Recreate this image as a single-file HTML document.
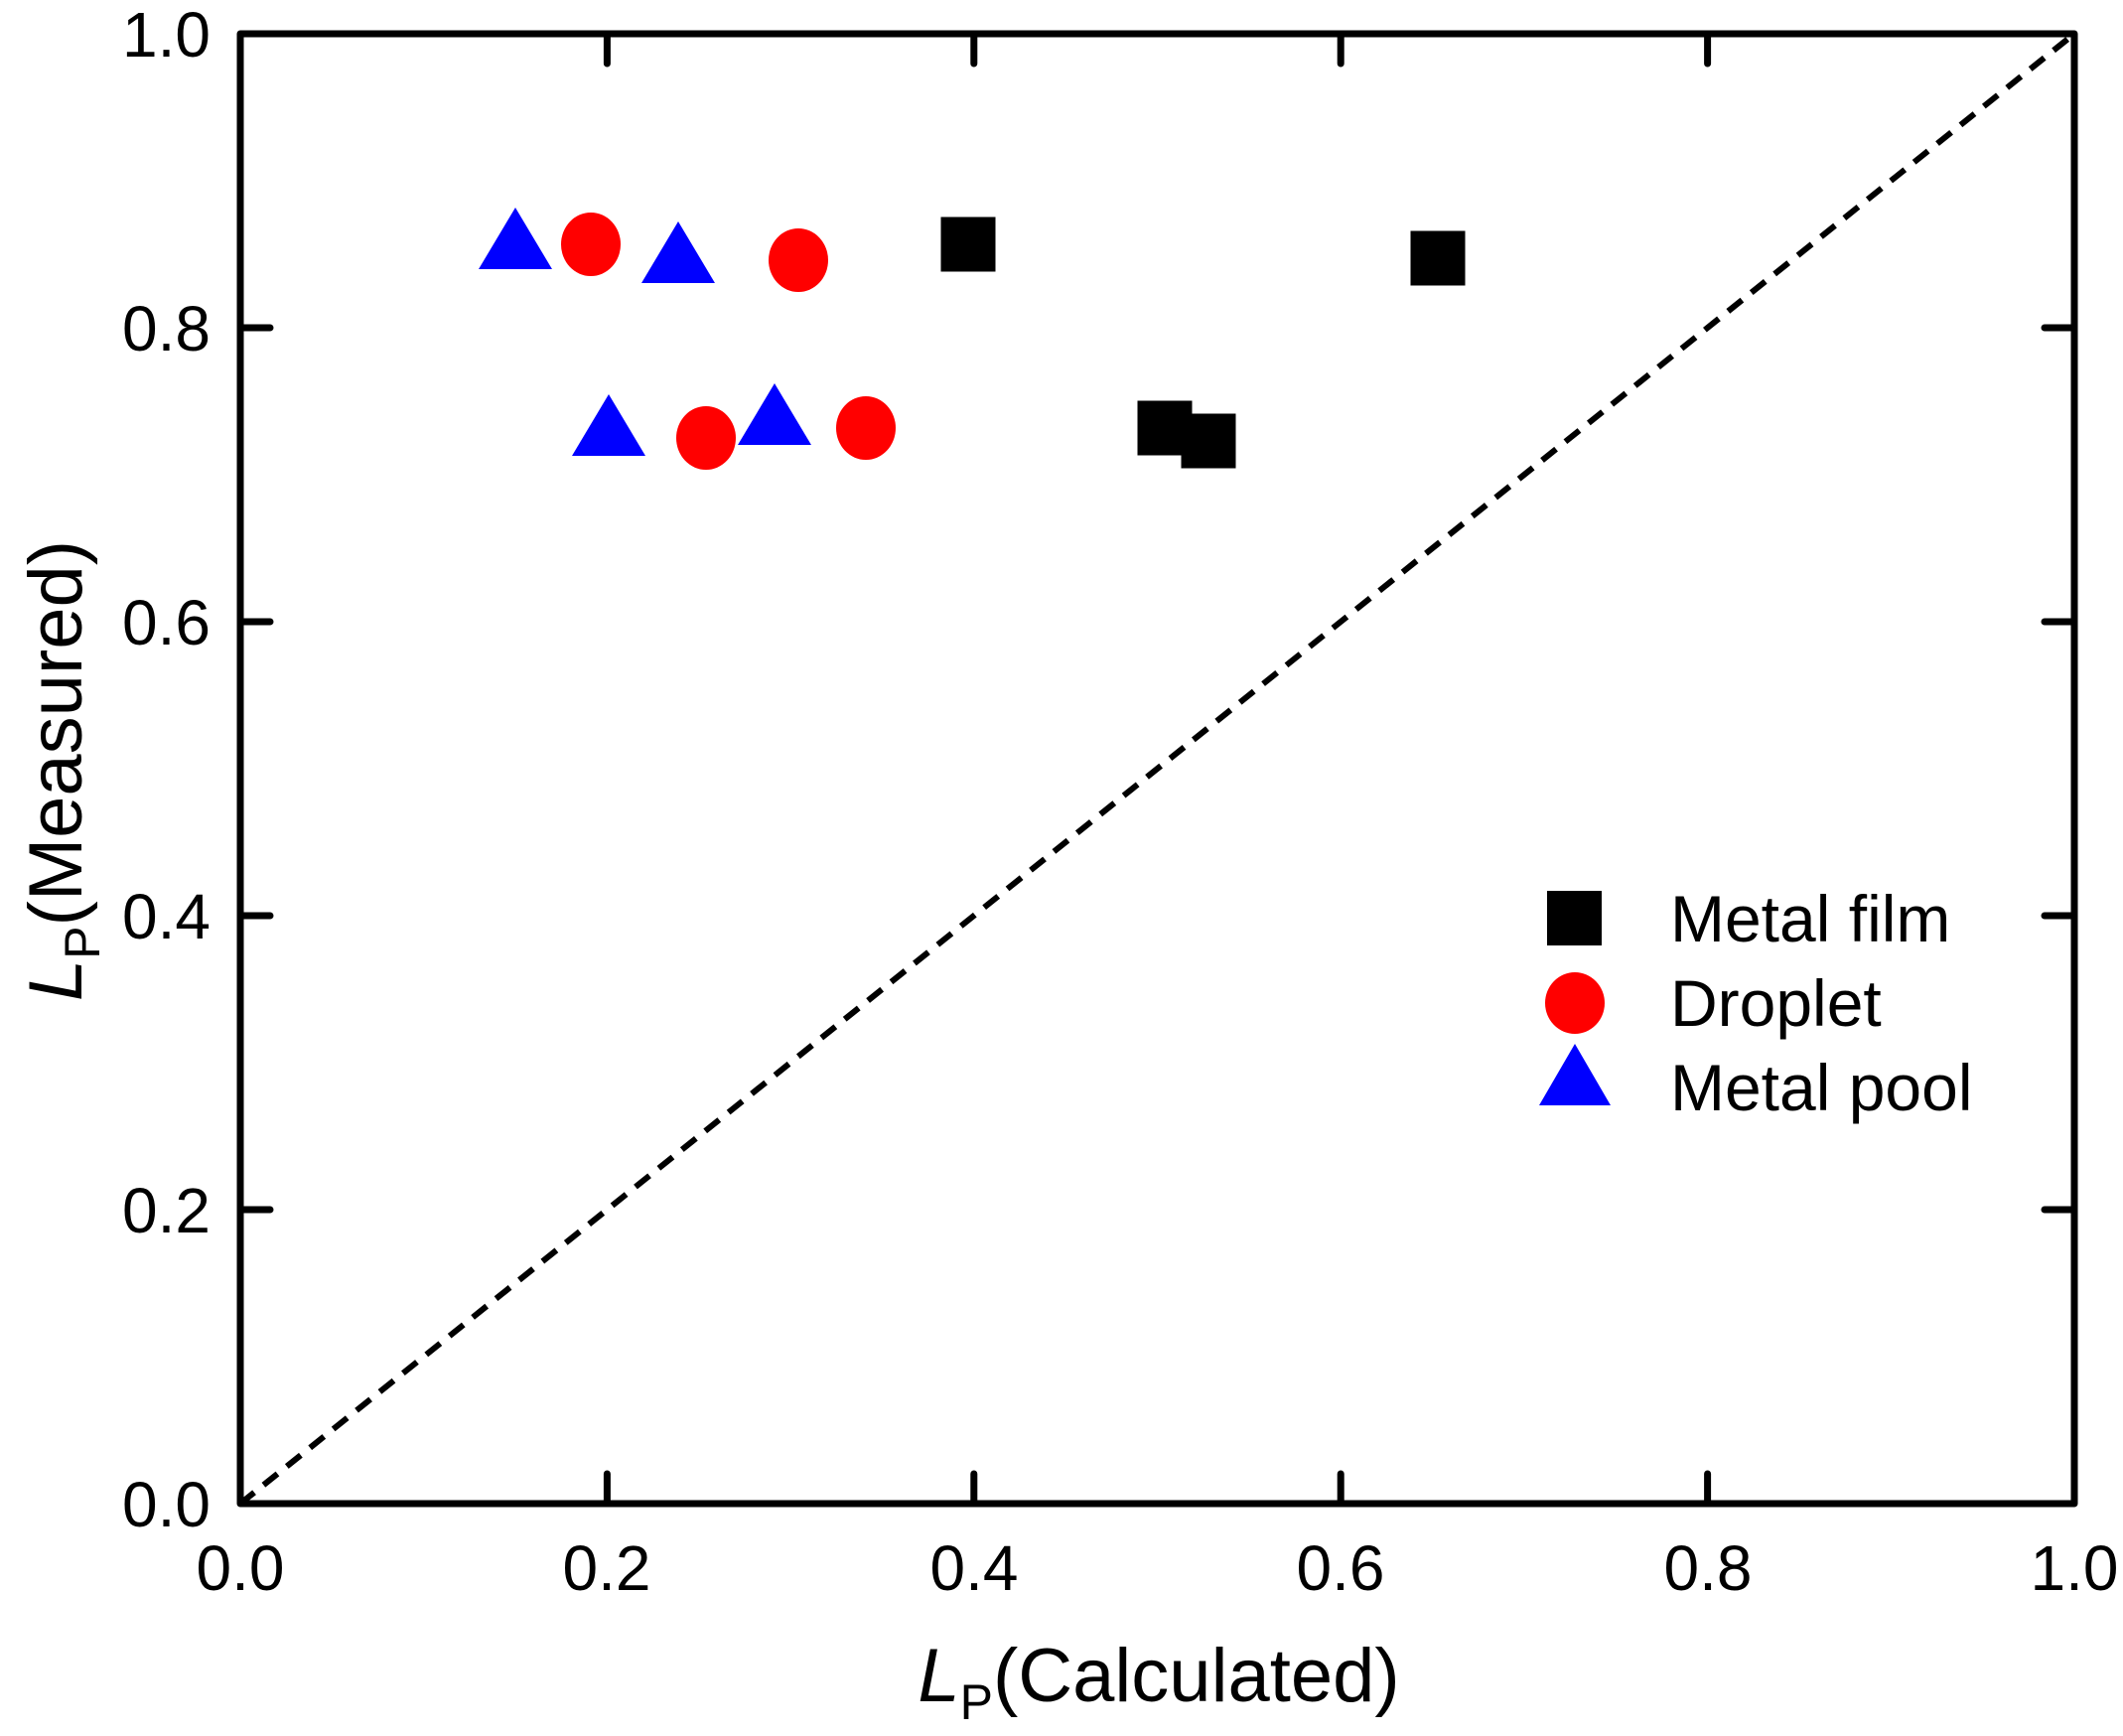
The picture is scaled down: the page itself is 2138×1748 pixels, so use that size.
<!DOCTYPE html>
<html><head><meta charset="utf-8"><style>html,body{margin:0;padding:0;background:#fff}svg{display:block}</style></head>
<body>
<svg xmlns="http://www.w3.org/2000/svg" width="2138" height="1748" viewBox="0 0 2138 1748" font-family="Liberation Sans, Arial, sans-serif">
<rect width="2138" height="1748" fill="#fff"/>
<line x1="242" y1="1514" x2="2089" y2="34" stroke="#000" stroke-width="6" stroke-dasharray="18 12"/>
<g stroke="#000" stroke-width="7" stroke-linecap="round">
<path d="M611.4 1514v-30M980.8 1514v-30M1350.2 1514v-30M1719.6 1514v-30"/>
<path d="M611.4 34v30M980.8 34v30M1350.2 34v30M1719.6 34v30"/>
<path d="M242 1218h30M242 922h30M242 626h30M242 330h30"/>
<path d="M2089 1218h-30M2089 922h-30M2089 626h-30M2089 330h-30"/>
</g>
<rect x="242" y="34" width="1847" height="1480" fill="none" stroke="#000" stroke-width="7" stroke-linejoin="round"/>
<g font-size="64" fill="#000" text-anchor="end">
<text x="212" y="1537">0.0</text><text x="212" y="1241">0.2</text><text x="212" y="945">0.4</text>
<text x="212" y="649">0.6</text><text x="212" y="353">0.8</text><text x="212" y="57">1.0</text>
</g>
<g font-size="64" fill="#000" text-anchor="middle">
<text x="242" y="1601">0.0</text><text x="611" y="1601">0.2</text><text x="981" y="1601">0.4</text>
<text x="1350" y="1601">0.6</text><text x="1720" y="1601">0.8</text><text x="2089" y="1601">1.0</text>
</g>
<text x="1167" y="1713" font-size="76" text-anchor="middle"><tspan font-style="italic">L</tspan><tspan font-size="50" dy="18">P</tspan><tspan dy="-18">(Calculated)</tspan></text>
<text transform="translate(82,776) rotate(-90)" font-size="76" text-anchor="middle"><tspan font-style="italic">L</tspan><tspan font-size="50" dy="18">P</tspan><tspan dy="-18">(Measured)</tspan></text>
<g fill="#000">
<rect x="947.5" y="218.5" width="55" height="55"/><rect x="1420.5" y="232.5" width="55" height="55"/>
<rect x="1145.5" y="403.5" width="55" height="55"/><rect x="1189.5" y="416.5" width="55" height="55"/>
</g>
<g fill="#f00">
<ellipse cx="595" cy="246" rx="30" ry="32"/><ellipse cx="804" cy="262" rx="30" ry="32"/>
<ellipse cx="711" cy="441" rx="30" ry="32"/><ellipse cx="872" cy="431" rx="30" ry="32"/>
</g>
<g fill="#00f">
<polygon points="519,209 556,271 482,271"/><polygon points="683,223 720,285 646,285"/>
<polygon points="613,397 650,459 576,459"/><polygon points="780,386 817,448 743,448"/>
</g>
<rect x="1558" y="897" width="55" height="55" fill="#000"/>
<ellipse cx="1586" cy="1010" rx="30" ry="31" fill="#f00"/>
<polygon points="1586,1051 1622,1113 1550,1113" fill="#00f"/>
<g font-size="66" fill="#000">
<text x="1682" y="948">Metal film</text>
<text x="1682" y="1033">Droplet</text>
<text x="1682" y="1118">Metal pool</text>
</g>
</svg>
</body></html>
